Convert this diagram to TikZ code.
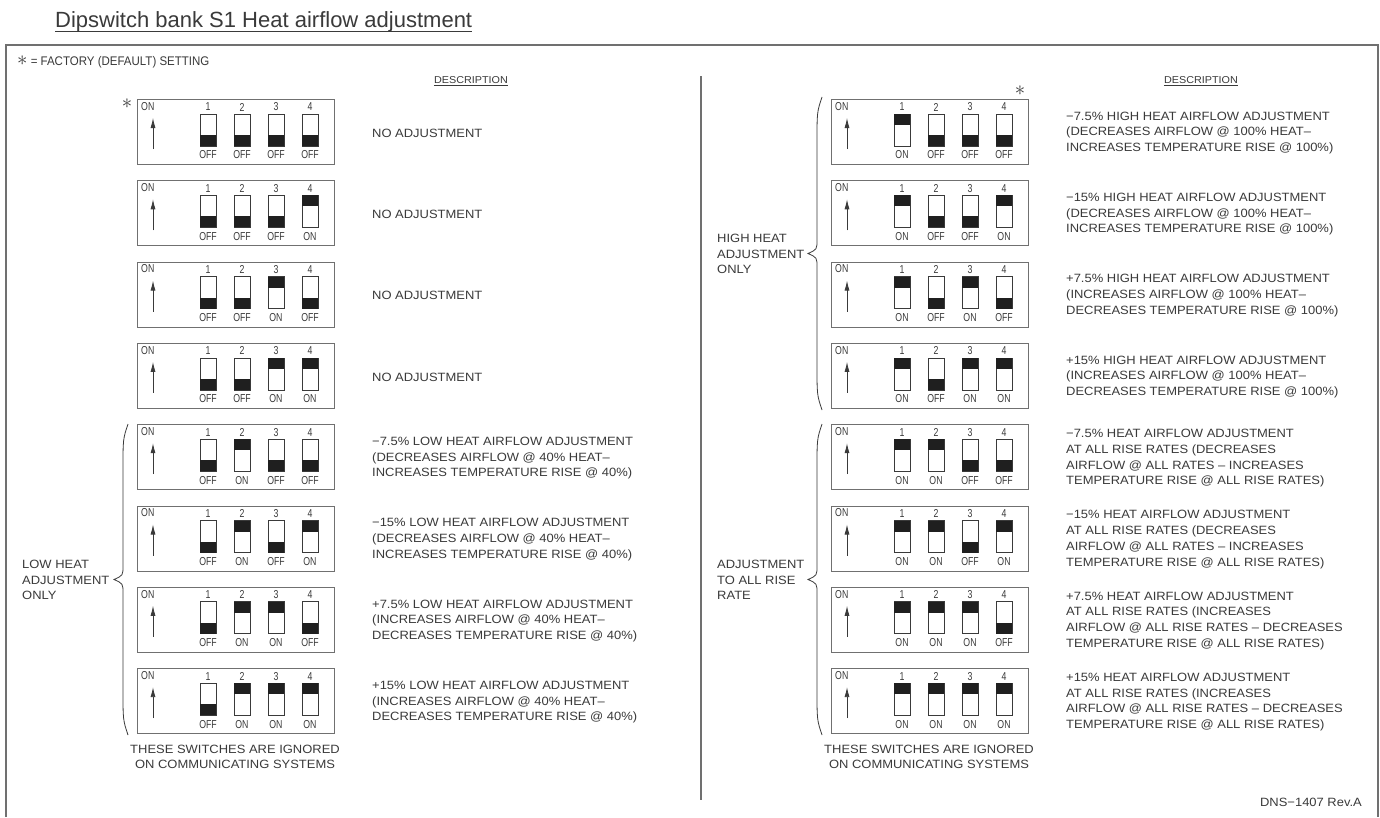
\documentclass[tikz,border=0pt]{standalone}
\usepackage{fontspec}
\setmainfont{Liberation Sans}
\newfontfamily\descfont{Liberation Sans}[FakeStretch=1.08]
\newfontfamily\boxfont{Liberation Sans}[FakeStretch=0.76]
\newfontfamily\legfont{Liberation Sans}[FakeStretch=0.92]
\usetikzlibrary{arrows.meta}
\definecolor{ink}{HTML}{3A3A3A}
\definecolor{linec}{HTML}{707070}
\tikzset{
  boxframe/.style={draw=linec, line width=1.1pt, minimum width=197pt, minimum height=65pt, inner sep=0pt, anchor=north west},
  swbody/.style={draw=ink, line width=0.8pt, fill=white},
  swknob/.style={fill=black!88},
  boxtxt/.style={font=\boxfont\fontsize{11.5}{12}\selectfont, text=ink, inner sep=0pt},
  desc/.style={font=\descfont\fontsize{12}{15.7}\selectfont, text=ink, align=left, anchor=west, inner sep=0pt},
  bottxt/.style={font=\descfont\fontsize{12}{14.5}\selectfont, text=ink, align=center, inner sep=0pt},
  bracestyle/.style={draw=ink, line width=0.8pt},
  onarrow/.style={draw=ink, line width=0.8pt, -{Latex[length=10pt,width=5pt]}},
  starstyle/.style={font=\fontsize{20}{20}\selectfont, text=ink, inner sep=0pt},
  heading/.style={font=\descfont\fontsize{10}{12}\selectfont, text=ink, inner sep=0pt, anchor=base},
}
\newcommand{\dipbox}[7]{%
  \node[boxframe] (#1) at (#2,#3) {};
  \node[boxtxt, anchor=north west] (#1on) at ({#2+4},{#3+3}) {ON};
  \coordinate (#1aa) at ({#2+16},{#3+50});
  \coordinate (#1ab) at ({#2+16},{#3+19});
  \draw[onarrow] (#1aa) -- (#1ab);
  \foreach \s [count=\i] in {#4,#5,#6,#7} {
    \pgfmathsetmacro\cx{#2+71+34*(\i-1)}
    \node[boxtxt] (#1n\i) at (\cx,{#3+8}) {\i};
    \draw[swbody] ({\cx-8},{#3+15}) rectangle ({\cx+8},{#3+47});
    \ifnum\s=1
      \fill[swknob] ({\cx-8},{#3+15}) rectangle ({\cx+8},{#3+26});
      \node[boxtxt] (#1l\i) at (\cx,{#3+56}) {ON};
    \else
      \fill[swknob] ({\cx-8},{#3+36}) rectangle ({\cx+8},{#3+47});
      \node[boxtxt] (#1l\i) at (\cx,{#3+56}) {OFF};
    \fi
  }
}
\newcommand{\sidebrace}[4]{% name, x, top, bottom
  \pgfmathsetmacro\bm{(#3+#4)/2}
  \coordinate (#1t) at ({#2+5},#3);
  \coordinate (#1m) at ({#2-9},\bm);
  \coordinate (#1b) at ({#2+5},#4);
  \draw[bracestyle] (#1t) .. controls ({#2},{#3+15}) .. ({#2},{#3+45})
     -- ({#2},{\bm-14}) .. controls ({#2},{\bm-4}) .. (#1m)
     .. controls ({#2},{\bm+4}) .. ({#2},{\bm+14})
     -- ({#2},{#4-45}) .. controls ({#2},{#4-15}) .. (#1b);
}
\begin{document}
\begin{tikzpicture}[x=1pt,y=-1pt]
\useasboundingbox (0,0) rectangle (1380,817);
\fill[white] (0,0) rectangle (1380,817);
% title
\node[font=\fontsize{22}{26}\selectfont, text=ink, inner sep=0pt, anchor=base west] (title) at (55,27) {Dipswitch bank S1 Heat airflow adjustment};
\draw[ink, line width=0.8pt] ([yshift=-4pt]title.base west) -- ([yshift=-4pt]title.base east);
% frame
\coordinate (fbl) at (6,817);
\coordinate (ftl) at (6,45);
\coordinate (ftr) at (1378,45);
\coordinate (fbr) at (1378,817);
\draw[linec, line width=1.5pt] (fbl) -- (ftl) -- (ftr) -- (fbr);
\coordinate (dvt) at (701,76);
\coordinate (dvb) at (701,800);
\draw[linec, line width=1.3pt] (dvt) -- (dvb);
% legend
\node[desc, font=\legfont\fontsize{12.5}{15}\selectfont] (legend) at (17,62) {{\fontsize{20}{20}\selectfont$\ast$} = FACTORY (DEFAULT) SETTING};
\node[heading] (dl) at (471,83) {DESCRIPTION};
\draw[ink, line width=0.6pt] ([yshift=-2.5pt]dl.base west) -- ([yshift=-2.5pt]dl.base east);
\node[heading] (dr) at (1201,83) {DESCRIPTION};
\draw[ink, line width=0.6pt] ([yshift=-2.5pt]dr.base west) -- ([yshift=-2.5pt]dr.base east);
% left column
\dipbox{L1}{137}{99}{0}{0}{0}{0}
\dipbox{L2}{137}{180.3}{0}{0}{0}{1}
\dipbox{L3}{137}{261.6}{0}{0}{1}{0}
\dipbox{L4}{137}{342.9}{0}{0}{1}{1}
\dipbox{L5}{137}{424.2}{0}{1}{0}{0}
\dipbox{L6}{137}{505.5}{0}{1}{0}{1}
\dipbox{L7}{137}{586.8}{0}{1}{1}{0}
\dipbox{L8}{137}{668.1}{0}{1}{1}{1}
% right column
\dipbox{R1}{831}{99}{1}{0}{0}{0}
\dipbox{R2}{831}{180.3}{1}{0}{0}{1}
\dipbox{R3}{831}{261.6}{1}{0}{1}{0}
\dipbox{R4}{831}{342.9}{1}{0}{1}{1}
\dipbox{R5}{831}{424.2}{1}{1}{0}{0}
\dipbox{R6}{831}{505.5}{1}{1}{0}{1}
\dipbox{R7}{831}{586.8}{1}{1}{1}{0}
\dipbox{R8}{831}{668.1}{1}{1}{1}{1}
% stars
\node[starstyle] (starL) at (127,104) {$\ast$};
\node[starstyle] (starR) at (1020,91) {$\ast$};
% left descriptions
\node[desc] (dL1) at (372,133) {NO ADJUSTMENT};
\node[desc] (dL2) at (372,214.3) {NO ADJUSTMENT};
\node[desc] (dL3) at (372,295.6) {NO ADJUSTMENT};
\node[desc] (dL4) at (372,376.9) {NO ADJUSTMENT};
\node[desc] (dL5) at (372,458.2) {−7.5\% LOW HEAT AIRFLOW ADJUSTMENT\\(DECREASES AIRFLOW @ 40\% HEAT–\\INCREASES TEMPERATURE RISE @ 40\%)};
\node[desc] (dL6) at (372,539.5) {−15\% LOW HEAT AIRFLOW ADJUSTMENT\\(DECREASES AIRFLOW @ 40\% HEAT–\\INCREASES TEMPERATURE RISE @ 40\%)};
\node[desc] (dL7) at (372,620.8) {+7.5\% LOW HEAT AIRFLOW ADJUSTMENT\\(INCREASES AIRFLOW @ 40\% HEAT–\\DECREASES TEMPERATURE RISE @ 40\%)};
\node[desc] (dL8) at (372,702.1) {+15\% LOW HEAT AIRFLOW ADJUSTMENT\\(INCREASES AIRFLOW @ 40\% HEAT–\\DECREASES TEMPERATURE RISE @ 40\%)};
% right descriptions
\node[desc] (dR1) at (1066,133) {−7.5\% HIGH HEAT AIRFLOW ADJUSTMENT\\(DECREASES AIRFLOW @ 100\% HEAT–\\INCREASES TEMPERATURE RISE @ 100\%)};
\node[desc] (dR2) at (1066,214.3) {−15\% HIGH HEAT AIRFLOW ADJUSTMENT\\(DECREASES AIRFLOW @ 100\% HEAT–\\INCREASES TEMPERATURE RISE @ 100\%)};
\node[desc] (dR3) at (1066,295.6) {+7.5\% HIGH HEAT AIRFLOW ADJUSTMENT\\(INCREASES AIRFLOW @ 100\% HEAT–\\DECREASES TEMPERATURE RISE @ 100\%)};
\node[desc] (dR4) at (1066,376.9) {+15\% HIGH HEAT AIRFLOW ADJUSTMENT\\(INCREASES AIRFLOW @ 100\% HEAT–\\DECREASES TEMPERATURE RISE @ 100\%)};
\node[desc] (dR5) at (1066,458.2) {−7.5\% HEAT AIRFLOW ADJUSTMENT\\AT ALL RISE RATES (DECREASES\\AIRFLOW @ ALL RATES – INCREASES\\TEMPERATURE RISE @ ALL RISE RATES)};
\node[desc] (dR6) at (1066,539.5) {−15\% HEAT AIRFLOW ADJUSTMENT\\AT ALL RISE RATES (DECREASES\\AIRFLOW @ ALL RATES – INCREASES\\TEMPERATURE RISE @ ALL RISE RATES)};
\node[desc] (dR7) at (1066,620.8) {+7.5\% HEAT AIRFLOW ADJUSTMENT\\AT ALL RISE RATES (INCREASES\\AIRFLOW @ ALL RISE RATES – DECREASES\\TEMPERATURE RISE @ ALL RISE RATES)};
\node[desc] (dR8) at (1066,702.1) {+15\% HEAT AIRFLOW ADJUSTMENT\\AT ALL RISE RATES (INCREASES\\AIRFLOW @ ALL RISE RATES – DECREASES\\TEMPERATURE RISE @ ALL RISE RATES)};
% braces and side labels
\sidebrace{bL}{123}{424}{735}
\sidebrace{bRa}{817}{97}{410}
\sidebrace{bRb}{817}{424}{735}
\node[desc] (sL) at (22,580) {LOW HEAT\\ADJUSTMENT\\ONLY};
\node[desc] (sRa) at (717,254) {HIGH HEAT\\ADJUSTMENT\\ONLY};
\node[desc] (sRb) at (717,580) {ADJUSTMENT\\TO ALL RISE\\RATE};
% bottom notes
\node[bottxt] (nL) at (235,757) {THESE SWITCHES ARE IGNORED\\ON COMMUNICATING SYSTEMS};
\node[bottxt] (nR) at (929,757) {THESE SWITCHES ARE IGNORED\\ON COMMUNICATING SYSTEMS};
\node[desc, anchor=east] (dns) at (1362,802) {DNS−1407 Rev.A};
\end{tikzpicture}
\end{document}
